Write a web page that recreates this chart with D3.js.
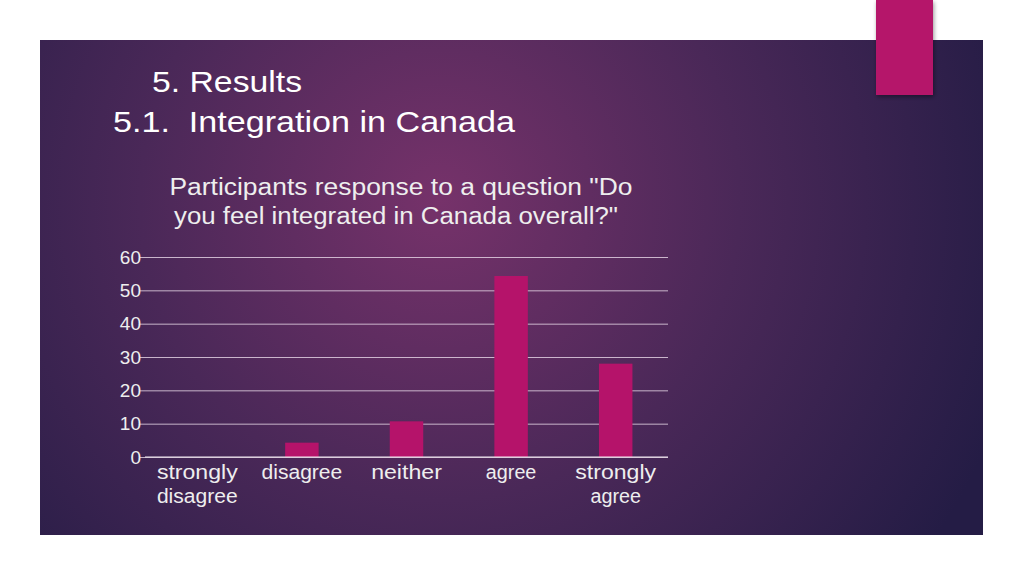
<!DOCTYPE html><html><head><meta charset="utf-8"><script src="https://cdn.jsdelivr.net/npm/d3@7"></script>
<style>body{margin:0;background:#fff}svg{display:block;font-family:"Liberation Sans",Arial,sans-serif}</style></head><body>
<svg id="c" width="1024" height="575"></svg>
<script>
const categories=["strongly disagree","disagree","neither","agree","strongly agree"];
const values=[0,4.3,10.7,54.3,28];
const yTicks=[0,10,20,30,40,50,60];
const svg=d3.select("#c");
const defs=svg.append("defs");
const g=defs.append("radialGradient").attr("id","bg").attr("gradientUnits","userSpaceOnUse").attr("cx",440).attr("cy",200).attr("r",600);
g.append("stop").attr("offset","0").attr("stop-color","#76326a");
g.append("stop").attr("offset","0.5").attr("stop-color","#4a2858");
g.append("stop").attr("offset","1").attr("stop-color","#241c45");
const f=defs.append("filter").attr("id","sh").attr("x","-20%").attr("y","-20%").attr("width","150%").attr("height","150%");
f.append("feDropShadow").attr("dx",1).attr("dy",2).attr("stdDeviation",2).attr("flood-opacity",0.4);
svg.append("rect").attr("x",40).attr("y",40).attr("width",943).attr("height",495).attr("fill","url(#bg)");
svg.append("rect").attr("x",876).attr("y",0).attr("width",57).attr("height",95).attr("fill","#b5136a").attr("filter","url(#sh)");
svg.append("text").attr("x",152).attr("y",92).attr("fill","#fff").attr("font-size",30).attr("textLength",150).attr("lengthAdjust","spacingAndGlyphs").text("5. Results");
svg.append("text").attr("x",113).attr("y",132).attr("fill","#fff").attr("font-size",30).attr("xml:space","preserve").attr("textLength",402).attr("lengthAdjust","spacingAndGlyphs").text("5.1.  Integration in Canada");
const tt=svg.append("text").attr("fill","#eee").attr("font-size",23).attr("text-anchor","middle");
tt.append("tspan").attr("x",401).attr("y",195).attr("textLength",463).attr("lengthAdjust","spacingAndGlyphs").text('Participants response to a question "Do');
tt.append("tspan").attr("x",396).attr("y",224).attr("textLength",444).attr("lengthAdjust","spacingAndGlyphs").text('you feel integrated in Canada overall?"');
const x=d3.scaleBand().domain(categories).range([145,668]).paddingInner(0.68).paddingOuter(0.34);
const y=d3.scaleLinear().domain([0,60]).range([457,257]);
const ax=svg.append("g").attr("transform","translate(145,0)").call(d3.axisLeft(y).tickValues(yTicks).tickSize(-523).tickPadding(4));
ax.select(".domain").remove();
ax.selectAll("line").attr("stroke","#e8d8e8").attr("stroke-opacity",0.8).attr("x1",-6);
ax.selectAll("text").attr("fill","#eee").attr("font-size",19).attr("font-family","Liberation Sans,Arial,sans-serif");
svg.selectAll(".bar").data(values).join("rect").attr("x",(d,i)=>x(categories[i])).attr("width",x.bandwidth())
 .attr("y",d=>y(d)).attr("height",d=>y(0)-y(d)).attr("fill","#b5136a");
svg.append("line").attr("x1",145).attr("x2",668).attr("y1",457).attr("y2",457).attr("stroke","#f0e8f0");
categories.forEach((c,i)=>{
 const cx=x(c)+x.bandwidth()/2;
 const words=c.split(" ");
 const t=svg.append("text").attr("fill","#eee").attr("font-size",20).attr("text-anchor","middle");
 words.forEach((w,j)=>t.append("tspan").attr("x",cx).attr("y",479+j*24).attr("textLength",w.length*10.1).attr("lengthAdjust","spacingAndGlyphs").text(w));
});
</script></body></html>
